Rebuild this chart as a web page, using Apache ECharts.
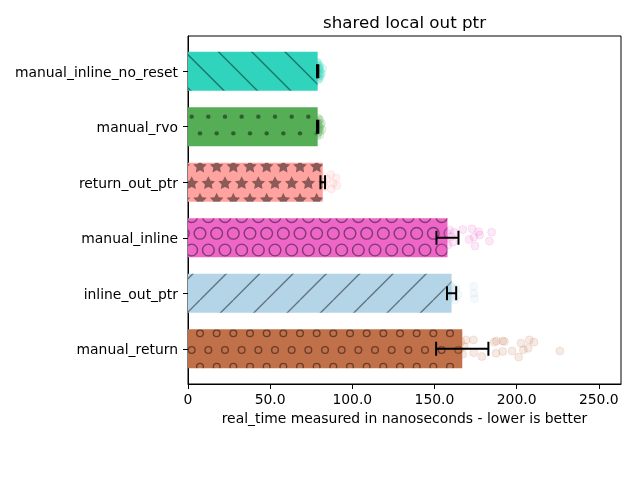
<!DOCTYPE html>
<html lang="en">
<head>
    <meta charset="UTF-8">
    <title>shared local out ptr</title>
    <script src="https://cdn.jsdelivr.net/npm/echarts@6/dist/echarts.min.js"></script>
</head>
<body style="margin: 0">
<div id="main" style="width: 640px;height: 480px"></div>

<script>
    // bottom to top, like the original plot
    const categories = ['manual_return', 'inline_out_ptr', 'manual_inline', 'return_out_ptr', 'manual_rvo', 'manual_inline_no_reset'];
    const means = [166.9, 160.4, 157.9, 82.0, 78.9, 78.9];
    const errors = [15.9, 2.8, 6.7, 1.4, 0.4, 0.4];
    const colors = ['#c0714a', '#b4d5e7', '#ee67c8', '#fea3a0', '#55ad55', '#30d4bc'];
    const hatches = ['o', '/', 'O', '*', '.', '\\'];
    const xTicks = [0, 50, 100, 150, 200, 250];
    const yTicks = [0, 1, 2, 3, 4, 5];

    // single runs: [time, vertical jitter]
    const runsManualReturn = [[169.2, 0.16], [173.7, 0.16], [173.9, -0.07], [178.8, -0.14], [186.4, 0.12], [187.7, 0.14],
        [187.5, -0.08], [191.5, 0.14], [192.5, 0.13], [191.5, -0.05], [197.2, -0.04], [201.2, -0.15], [202.7, 0.10],
        [204.1, -0.02], [207.0, 0.01], [207.7, 0.16], [210.5, 0.12], [226.3, -0.04], [156.5, 0.05], [158.2, -0.12],
        [159.4, 0.15], [160.8, 0.02], [161.5, -0.06], [162.3, 0.10], [163.1, -0.15], [164.0, 0.07], [165.2, -0.02],
        [166.0, 0.13], [167.1, -0.10], [168.0, 0.04]];
    const runsInlineOutPtr = [[163.2, 0.09], [164.5, -0.03], [173.9, 0.12], [173.9, 0.0], [174.3, -0.10], [158.5, 0.05],
        [159.5, -0.10], [160.2, 0.12], [161.0, -0.02], [161.8, 0.08], [162.4, -0.12], [159.0, 0.15], [160.7, -0.06]];
    const runsManualInline = [[159.1, 0.14], [167.2, 0.15], [172.9, 0.16], [176.8, 0.11], [184.8, 0.10], [171.0, -0.03],
        [174.0, 0.01], [177.5, 0.05], [174.7, -0.15], [183.4, -0.06], [152.5, 0.05], [154.0, -0.10], [155.5, 0.12],
        [156.3, -0.02], [157.4, 0.08], [158.2, -0.13], [160.0, 0.02], [161.2, -0.08], [162.0, 0.10]];
    const runsReturnOutPtr = [[86.9, 0.14], [90.2, 0.08], [88.4, -0.02], [90.6, -0.06], [87.3, -0.12], [84.5, 0.06],
        [83.2, -0.09], [81.3, 0.12], [82.5, 0.0], [80.8, -0.05]];
    const runsManualRvo = [[78.3, 0.10], [78.8, -0.12], [79.2, 0.05], [79.6, -0.04], [80.1, 0.13], [80.4, -0.08],
        [79.0, 0.16], [79.9, 0.0], [78.6, -0.02], [80.2, -0.15], [81.2, 0.06], [81.6, -0.05], [78.9, 0.08],
        [79.4, -0.1], [79.7, 0.12], [80.0, -0.02], [78.5, -0.16], [79.1, 0.01], [80.6, 0.04], [79.3, -0.06]];
    const runsNoReset = [[78.4, 0.12], [78.9, -0.10], [79.3, 0.03], [79.7, -0.06], [80.2, 0.10], [80.5, -0.03],
        [79.1, 0.15], [79.8, -0.14], [78.7, 0.0], [80.0, 0.06], [81.3, -0.04], [81.8, 0.05], [79.0, -0.05],
        [79.5, 0.09], [79.9, -0.11], [80.3, 0.01], [78.6, 0.16], [79.2, -0.15], [80.7, -0.08], [79.6, 0.04]];
    const runs = [runsManualReturn, runsInlineOutPtr, runsManualInline, runsReturnOutPtr, runsManualRvo, runsNoReset];

    const font = 'DejaVu Sans';

    function darken(hex, f) {
        const n = parseInt(hex.slice(1), 16);
        const r = Math.round(((n >> 16) & 255) * f), g = Math.round(((n >> 8) & 255) * f), b = Math.round((n & 255) * f);
        return 'rgb(' + r + ',' + g + ',' + b + ')';
    }

    function star(ctx, x, y, ro, ri) {
        ctx.beginPath();
        for (let k = 0; k < 10; k++) {
            const a = -Math.PI / 2 + k * Math.PI / 5;
            const rr = k % 2 === 0 ? ro : ri;
            const px = x + rr * Math.cos(a), py = y + rr * Math.sin(a);
            if (k === 0) ctx.moveTo(px, py); else ctx.lineTo(px, py);
        }
        ctx.closePath();
        ctx.fill();
        ctx.stroke();
    }

    // matplotlib-like hatch tile, 100px
    function makeHatch(color, hatch) {
        const c = document.createElement('canvas');
        c.width = 100;
        c.height = 100;
        const ctx = c.getContext('2d');
        ctx.fillStyle = color;
        ctx.fillRect(0, 0, 100, 100);
        const dark = darken(color, 0.55);
        ctx.strokeStyle = dark;
        ctx.fillStyle = dark;
        ctx.lineWidth = 1.4;
        if (hatch === '/' || hatch === '\\') {
            const d = 100 / 3;
            ctx.beginPath();
            for (let k = -4; k <= 7; k++) {
                ctx.moveTo(k * d, 0);
                ctx.lineTo(hatch === '\\' ? k * d + 100 : k * d - 100, 100);
            }
            ctx.stroke();
            return c;
        }
        const s = 100 / 6;
        for (let r = -1; r <= 7; r++) {
            const off = r % 2 === 0 ? 0 : s / 2;
            for (let col = -1; col <= 7; col++) {
                const x = col * s + off, y = r * s;
                if (hatch === '*') {
                    star(ctx, x, y, s / 3, s / 6);
                } else {
                    ctx.beginPath();
                    if (hatch === '.') {
                        ctx.arc(x, y, 2.2, 0, Math.PI * 2);
                        ctx.fill();
                    } else {
                        ctx.arc(x, y, hatch === 'O' ? s * 0.35 : s * 0.2, 0, Math.PI * 2);
                        ctx.stroke();
                    }
                }
            }
        }
        return c;
    }

    const patterns = colors.map((c, i) => ({image: makeHatch(c, hatches[i]), repeat: 'repeat'}));

    const chart = echarts.init(document.getElementById('main'));

    const series = [];
    series.push({
        type: 'custom',
        z: 2,
        silent: true,
        encode: {x: 1, y: 0},
        data: means.map((m, i) => [i, m]),
        renderItem: function (params, api) {
            const i = api.value(0);
            const a = api.coord([0, i + 0.35]);
            const b = api.coord([api.value(1), i - 0.35]);
            return {
                type: 'rect',
                shape: {x: a[0], y: a[1], width: b[0] - a[0], height: b[1] - a[1]},
                style: {fill: patterns[i]}
            };
        }
    });
    runs.forEach((list, i) => {
        series.push({
            type: 'scatter',
            z: 3,
            silent: true,
            symbolSize: 8,
            itemStyle: {color: colors[i], borderColor: colors[i], borderWidth: 1, opacity: 0.15},
            data: list.map(p => [p[0], i + p[1]])
        });
    });
    series.push({
        type: 'custom',
        z: 4,
        silent: true,
        encode: {x: 1, y: 0},
        data: means.map((m, i) => [i, m, errors[i]]),
        renderItem: function (params, api) {
            const i = api.value(0), m = api.value(1), e = api.value(2);
            const lo = api.coord([m - e, i]), hi = api.coord([m + e, i]);
            const st = {stroke: '#000', lineWidth: 2, fill: null};
            return {
                type: 'group',
                children: [
                    {type: 'line', shape: {x1: lo[0], y1: lo[1], x2: hi[0], y2: hi[1]}, style: st},
                    {type: 'line', shape: {x1: lo[0], y1: lo[1] - 7, x2: lo[0], y2: lo[1] + 7}, style: st},
                    {type: 'line', shape: {x1: hi[0], y1: hi[1] - 7, x2: hi[0], y2: hi[1] + 7}, style: st}
                ]
            };
        }
    });

    const option = {
        animation: false,
        textStyle: {fontFamily: font},
        title: {
            text: 'shared local out ptr',
            left: 399.5,
            top: 10,
            textAlign: 'center',
            textStyle: {fontFamily: font, fontSize: 16.7, fontWeight: 'normal', color: '#000'}
        },
        grid: {
            left: 188, right: 19, top: 36, bottom: 96,
            show: true, borderColor: '#000', borderWidth: 1, backgroundColor: 'transparent'
        },
        xAxis: {
            type: 'value',
            min: 0,
            max: 263.5,
            axisLine: {show: true, onZero: false, lineStyle: {color: '#000', width: 1}},
            axisTick: {show: true, length: 5, customValues: xTicks, lineStyle: {color: '#000'}},
            axisLabel: {
                customValues: xTicks,
                formatter: v => v === 0 ? '0' : v.toFixed(1),
                color: '#000', fontFamily: font, fontSize: 13.9, margin: 9
            },
            splitLine: {show: false},
            name: 'real_time measured in nanoseconds - lower is better',
            nameLocation: 'middle',
            nameGap: 28,
            nameTextStyle: {color: '#000', fontFamily: font, fontSize: 13.9}
        },
        yAxis: {
            type: 'value',
            min: -0.635,
            max: 5.635,
            axisLine: {show: true, onZero: false, lineStyle: {color: '#000', width: 1}},
            axisTick: {show: true, length: 5, customValues: yTicks, lineStyle: {color: '#000'}},
            axisLabel: {
                // labels sit slightly lower than the tick, as in the original
                customValues: yTicks.map(v => v - 0.03),
                formatter: v => categories[Math.round(v)],
                color: '#000', fontFamily: font, fontSize: 13.9, margin: 10
            },
            splitLine: {show: false}
        },
        series: series
    };

    chart.setOption(option);
</script>
</body>
</html>
